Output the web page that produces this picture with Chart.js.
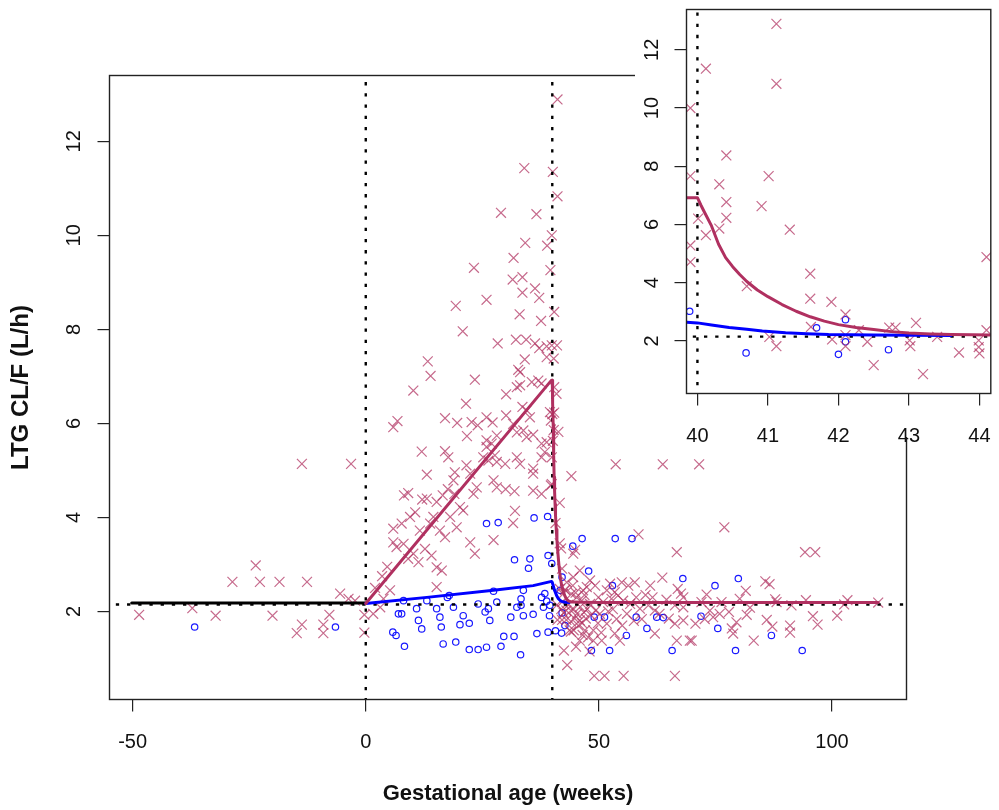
<!DOCTYPE html>
<html>
<head>
<meta charset="utf-8">
<script src="https://cdn.jsdelivr.net/npm/chart.js@4.4.1/dist/chart.umd.min.js"></script>
<style>
html,body{margin:0;padding:0;background:#fff;}
#wrap{position:relative;width:999px;height:810px;overflow:hidden;background:#fff;}
#main{position:absolute;left:0;top:0;}
#inset{position:absolute;left:600px;top:0;}
</style>
</head>
<body>
<div id="wrap">
<canvas id="main" width="999" height="810"></canvas>
<canvas id="inset" width="399" height="470"></canvas>
</div>
<script>
// ---------------- DATA ----------------
// Axis ticks
const mainXTicks = [-50, 0, 50, 100];
const mainYTicks = [2, 4, 6, 8, 10, 12];
const insetXTicks = [40, 41, 42, 43, 44];
const insetYTicks = [2, 4, 6, 8, 10, 12];

// Observed LTG CL/F, pregnant women (x = gestational age, weeks; y = L/h)
const redPrePregnancy = [
  [-48.6,1.93],[-37.2,2.07],[-32.2,1.91],[-28.6,2.63],[-23.6,2.98],[-22.7,2.63],[-20.0,1.91],
  [-18.5,2.63],[-14.8,1.54],[-13.7,1.72],[-13.7,5.14],[-12.6,2.63],[-9.1,1.72],[-9.1,1.54],
  [-7.8,1.93],[-5.5,2.38],[-3.7,2.27],[-3.15,5.14],[-2.3,2.23],[-0.3,1.93],[-0.3,1.55]
];
const redPregnancy = [
  [34.0,11.43],[29.0,10.48],[36.6,10.45],[34.2,9.84],[38.9,9.78],[31.7,9.52],[23.2,9.31],[39.6,9.26],
  [31.5,9.06],[33.6,9.11],[33.6,8.78],[36.3,8.87],[37.2,8.67],[19.3,8.50],[25.9,8.63],[33.0,8.32],
  [37.6,8.18],[20.8,7.96],[28.3,7.70],[32.2,7.78],[34.4,7.78],[36.3,7.70],[37.2,7.60],[38.8,7.64],
  [34.1,7.36],[38.8,7.41],[32.7,7.14],[33.1,7.09],[13.3,7.32],[13.9,7.01],[10.2,6.70],[23.4,6.93],
  [21.5,6.42],[30.1,6.62],[32.4,6.77],[33.1,6.81],[35.6,6.88],[37.0,6.91],[37.7,6.85],[39.5,6.24],
  [39.7,6.06],[33.6,6.35],[34.5,6.28],[35.2,6.13],[5.9,5.92],[6.8,6.05],[12.0,5.40],[17.0,6.11],
  [19.6,6.01],[17.0,5.41],[22.7,6.03],[24.0,5.96],[25.9,6.13],[27.2,6.02],[30.1,6.17],[31.6,5.99],
  [21.7,5.73],[32.4,5.81],[33.8,5.85],[34.5,5.71],[35.9,5.76],[25.9,5.64],[27.0,5.57],[25.9,5.50],
  [28.1,5.74],[37.7,5.57],[38.8,5.60],[17.7,5.28],[13.1,4.91],[19.1,4.96],[18.8,4.79],[21.6,5.11],
  [22.4,4.93],[25.2,5.28],[26.3,5.21],[27.7,5.32],[28.1,5.18],[29.9,5.14],[32.4,5.28],[33.1,5.14],
  [35.9,5.04],[35.9,4.93],[37.7,5.28],[38.4,5.39],
  [8.2,4.47],[9.1,4.52],[12.1,4.38],[13.1,4.40],[15.2,4.33],[16.5,4.47],[17.6,4.60],[19.0,4.50],
  [20.2,4.22],[23.1,4.50],[23.8,4.64],[27.4,4.79],[28.1,4.64],[30.0,4.60],[31.9,4.56],[35.9,4.57],
  [37.7,4.50],[39.7,4.68],
  [5.9,3.76],[7.7,3.87],[9.5,4.01],[10.6,4.11],[11.6,3.72],[13.8,3.87],[14.5,4.01],[15.9,3.72],
  [17.0,3.58],[18.1,4.01],[19.5,3.79],[20.9,4.15],[5.9,3.47],[6.6,3.37],[8.1,3.44],[9.1,3.12],
  [10.2,3.23],[11.3,3.05],[12.7,3.33],[14.1,3.19],[15.2,2.94],[16.3,2.87],[22.4,3.47],[23.4,3.23],
  [27.4,3.52],[32.0,4.14],[31.6,3.88],[3.8,2.27],[5.2,2.45],[1.6,1.95],[3.1,2.09],[15.2,2.52],
  [2.0,2.50],[3.5,2.75],[4.6,2.95]
];
const redEarlyPostpartum = [
  [41.12,12.89],[40.12,11.35],[41.12,10.83],[39.9,10.0],[40.41,8.37],[39.9,7.66],[41.01,7.66],
  [40.31,7.38],[40.91,6.63],[40.41,6.77],[40.41,6.23],[40.01,6.20],[40.31,5.86],[41.31,5.82],
  [40.12,5.63],[39.9,5.28],[39.9,4.71],[40.70,3.88],[41.60,4.31],[41.60,3.45],[41.90,3.34],
  [42.10,2.91],[44.10,4.88],[41.61,2.48],[42.10,2.20],[42.29,2.37],[41.91,2.05],[41.02,2.14],
  [41.12,1.82],[42.10,1.82],[42.41,1.97],[42.50,1.17],[42.72,2.46],[42.81,2.46],[43.01,2.02],
  [43.02,1.82],[43.10,2.62],[43.20,0.86],[43.40,2.14],[43.71,1.60],[43.99,2.02],[43.99,1.79],
  [44.0,1.57],[44.10,2.37]
];
const redLatePostpartum = [
  [53.6,5.13],[63.7,5.13],[71.5,5.13],[76.9,3.79],[58.5,3.64],[66.7,3.26],[94.2,3.26],[96.4,3.26],
  [44.9,3.31],[44.5,3.23],[63.6,2.72],[61.0,2.55],[57.7,2.62],[56.3,2.55],[54.9,2.62],[52.4,2.59],
  [53.4,2.41],[51.7,2.45],[48.1,2.66],[49.2,2.55],[47.4,2.52],[46.6,2.45],[45.9,2.87],[44.5,2.73],
  [44.4,2.55],[45.2,2.30],[46.3,2.23],[48.1,2.16],[49.9,2.30],[50.9,2.20],[52.7,2.27],[54.1,2.34],
  [55.2,2.23],[56.7,2.16],[58.8,2.06],[60.6,2.13],[62.0,2.02],[59.2,1.84],[66.9,2.48],[67.6,2.38],
  [68.1,2.30],[66.3,2.13],[68.1,2.09],[66.3,1.74],[68.1,1.81],[62.0,1.53],[66.7,1.38],[69.9,1.38],
  [73.1,2.36],[72.0,2.20],[76.3,2.20],[73.8,2.02],[72.7,1.84],[75.9,1.95],[74.5,1.88],[78.5,1.64],
  [79.5,1.77],[78.8,1.53],[81.5,2.44],[80.2,2.27],[82.4,2.08],[81.7,1.93],[83.2,1.38],[85.7,2.64],
  [86.6,2.58],[87.8,2.26],[88.1,2.20],[86.0,1.82],[87.2,1.68],[91.3,2.13],[91.0,1.70],[91.0,1.55],
  [94.4,2.24],[95.9,1.90],[96.9,1.72],[101.1,1.91],[102.6,2.15],[103.3,2.24],[109.9,2.19],
  [48.8,1.60],[47.7,1.45],[50.6,1.38],[48.8,1.38],[54.5,1.38],[53.4,1.53],[45.9,1.38],[44.6,1.60],
  [45.9,1.81],[51.7,1.74],[53.8,1.84],[49.0,0.63],[51.2,0.63],[55.3,0.63],[66.3,0.63],[70.7,1.74],
  [77.9,1.99],[69.5,1.38],
  [44.6,2.05],[45.3,1.95],[46.0,2.10],[46.8,1.98],[47.5,2.05],[44.8,1.85],[45.6,1.70],[46.4,1.75],
  [47.2,1.85],[48.3,1.92],[49.3,2.02],[50.2,1.95],[47.0,1.60],[49.8,1.75],[45.0,2.40],[46.9,2.35],
  [45.1,1.25],[46.5,1.50],[48.0,1.15],[50.5,1.55],[52.0,2.00],[53.0,2.05],[56.0,1.95],[57.5,1.80],
  [55.0,1.70],[58.0,2.30],[60.0,2.35],[64.5,2.25],[63.0,1.95],[65.0,1.85],[61.5,2.30]
];

// Observed LTG CL/F, second group (blue circles)
const bluePrePregnancy = [[-36.7,1.67],[-6.5,1.67]];
const bluePregnancy = [
  [25.9,3.87],[28.4,3.89],[36.1,3.99],[39.0,4.02],[31.9,3.10],[35.2,3.12],[34.9,2.92],[39.1,3.19],
  [17.5,2.30],[17.9,2.34],[27.4,2.43],[33.3,2.27],[33.3,2.13],[33.8,2.45],[37.7,2.30],[38.4,2.38],
  [8.1,2.23],[13.1,2.23],[10.9,2.06],[15.2,2.06],[18.8,2.09],[24.1,2.16],[26.3,2.06],[25.6,1.99],
  [28.1,2.20],[32.4,2.09],[7.0,1.95],[7.7,1.95],[11.3,1.81],[15.9,1.88],[16.2,1.67],[20.9,1.91],
  [20.2,1.72],[22.2,1.75],[26.6,1.81],[31.1,1.88],[33.8,1.91],[35.9,1.94],[39.4,1.91],[38.1,2.09],
  [39.5,2.13],[5.8,1.56],[6.5,1.49],[12.0,1.63],[8.3,1.26],[16.6,1.31],[19.3,1.35],[22.2,1.19],
  [24.1,1.19],[25.9,1.24],[29.0,1.26],[29.6,1.47],[31.8,1.47],[36.7,1.53],[39.1,1.56],[33.2,1.08],
  [38.8,2.22]
];
const blueEarlyPostpartum = [
  [39.89,3.02],[40.69,1.59],[41.69,2.45],[42.10,2.73],[42.10,1.97],[42.0,1.54],[42.71,1.70]
];
const blueLatePostpartum = [
  [46.4,3.55],[53.5,3.55],[57.1,3.55],[44.4,3.39],[47.8,2.86],[68.0,2.70],[79.9,2.70],[74.9,2.55],
  [52.9,2.55],[49.0,1.88],[51.2,1.88],[58.0,1.88],[62.4,1.88],[63.8,1.87],[71.9,1.90],[60.3,1.64],
  [75.5,1.64],[55.9,1.49],[87.0,1.49],[48.4,1.17],[52.3,1.17],[65.7,1.17],[79.3,1.17],[93.6,1.17]
];

// Model curves
const pregnantCurveX = [0, 39.85, 40.0, 40.05, 40.1, 40.2, 40.3, 40.4, 40.5, 40.6, 40.7, 40.85, 41.0,
  41.2, 41.4, 41.6, 41.8, 42.0, 42.25, 42.5, 42.75, 43.0, 43.3, 43.6, 43.9, 44.16, 50, 109.9];
const pregnantCurveY = [2.17, 6.92, 6.92, 6.66, 6.42, 5.95, 5.32, 4.86, 4.55, 4.28, 4.04, 3.75, 3.52,
  3.25, 3.02, 2.83, 2.68, 2.56, 2.46, 2.39, 2.32, 2.27, 2.24, 2.22, 2.21, 2.20, 2.19, 2.19];
const controlCurveX = [0, 13.1, 27.4, 35.9, 39.85, 40.0, 40.2, 40.45, 40.7, 40.92, 41.25, 41.55, 41.86, 42.5, 43.6];
const controlCurveY = [2.17, 2.30, 2.45, 2.55, 2.64, 2.62, 2.55, 2.46, 2.40, 2.34, 2.28, 2.25, 2.22, 2.20, 2.19];
const baselineCurveX = [-50.2, 0];
const baselineCurveY = [2.18, 2.18];

// Reference (dotted) lines
const refBaselineY = 2.15;
const refMainVerticalX = [0, 40];
const refInsetVerticalX = [40];

// ---------------- HELPERS ----------------
const FONT = "'Liberation Sans', Arial, Helvetica, sans-serif";
const MAROON = '#B03060';
const toPts = arr => arr.map(p => ({x: p[0], y: p[1]}));
const zip = (xs, ys) => xs.map((x, i) => ({x: x, y: ys[i]}));
const setTicks = vals => scale => { scale.ticks = vals.map(v => ({value: v})); };
const noPad = s => { s.paddingTop = 0; s.paddingBottom = 0; s.paddingLeft = 0; s.paddingRight = 0; };

const redAll = [].concat(redPrePregnancy, redPregnancy, redEarlyPostpartum, redLatePostpartum);
const blueAll = [].concat(bluePrePregnancy, bluePregnancy, blueEarlyPostpartum, blueLatePostpartum);

function lineDS(data, color, width, order, dash) {
  return {
    data: data, showLine: true, borderColor: color, backgroundColor: color,
    borderWidth: width, pointRadius: 0, pointHoverRadius: 0, tension: 0, fill: false,
    borderDash: dash || [], borderCapStyle: dash ? 'butt' : 'round', borderJoinStyle: 'round', order: order
  };
}

function buildDatasets(verticalRefs) {
  const ds = [
    lineDS(zip(pregnantCurveX, pregnantCurveY), MAROON, 3, 0),
    lineDS(zip(controlCurveX, controlCurveY), '#0000FF', 3, 1),
    lineDS(zip(baselineCurveX, baselineCurveY), '#000000', 3, 2),
    lineDS([{x: -1000, y: refBaselineY}, {x: 1000, y: refBaselineY}], '#000000', 2.4, 3, [3.3, 7.9])
  ];
  verticalRefs.forEach(v => {
    ds.push(lineDS([{x: v, y: -1000}, {x: v, y: 1000}], '#000000', 2.4, 3, [3.3, 7.9]));
  });
  ds.push({
    data: toPts(redAll), pointStyle: 'crossRot', pointRadius: 7, pointHoverRadius: 7,
    borderColor: 'rgba(176,48,96,0.72)', backgroundColor: 'rgba(0,0,0,0)', borderWidth: 1.2, order: 4
  });
  ds.push({
    data: toPts(blueAll), pointStyle: 'circle', pointRadius: 3.2, pointHoverRadius: 3.2,
    borderColor: 'rgba(0,0,255,0.9)', backgroundColor: 'rgba(0,0,0,0)', borderWidth: 1.2, order: 5
  });
  return ds;
}

const boxPlugin = {
  id: 'rbox',
  afterDatasetsDraw(chart) {
    const a = chart.chartArea, c = chart.ctx;
    c.save();
    c.strokeStyle = '#222';
    c.lineWidth = 1.4;
    c.strokeRect(a.left, a.top, a.right - a.left, a.bottom - a.top);
    c.restore();
  }
};

const tickFont = {family: FONT, size: 20};
const gridOpts = {display: true, drawOnChartArea: false, drawTicks: true, tickLength: 12, color: '#222', lineWidth: 1.2};

// ---------------- MAIN CHART ----------------
new Chart(document.getElementById('main'), {
  type: 'scatter',
  data: {datasets: buildDatasets(refMainVerticalX)},
  options: {
    responsive: false, animation: false, devicePixelRatio: 1, events: [],
    layout: {padding: {left: 0, right: 92.5, top: 75.5, bottom: 0}},
    plugins: {legend: {display: false}, tooltip: {enabled: false}},
    scales: {
      x: {
        type: 'linear', min: -54.96, max: 115.97,
        afterBuildTicks: setTicks(mainXTicks),
        afterFit: s => { s.height = 110.5; noPad(s); },
        grid: gridOpts, border: {display: false},
        ticks: {font: tickFont, color: '#111', padding: 18.5, maxRotation: 0, autoSkip: false},
        title: {display: true, text: 'Gestational age (weeks)', color: '#111',
                font: {family: FONT, size: 22, weight: 'bold'}, padding: {top: 0, bottom: 3}}
      },
      y: {
        type: 'linear', min: 0.128, max: 13.40,
        afterBuildTicks: setTicks(mainYTicks),
        afterFit: s => { s.width = 109.5; noPad(s); },
        grid: gridOpts, border: {display: false},
        ticks: {font: tickFont, color: '#111', padding: 11.9, minRotation: 90, maxRotation: 90,
                crossAlign: 'center', autoSkip: false},
        title: {display: true, text: 'LTG CL/F (L/h)', color: '#111',
                font: {family: FONT, size: 24, weight: 'bold'}, padding: {top: 6.6, bottom: 0}}
      }
    }
  },
  plugins: [{
    id: 'bgWhite',
    beforeDraw(chart) {
      const c = chart.ctx; c.save(); c.fillStyle = '#fff';
      c.fillRect(0, 0, chart.width, chart.height); c.restore();
    }
  }, boxPlugin]
});

// ---------------- INSET CHART ----------------
new Chart(document.getElementById('inset'), {
  type: 'scatter',
  data: {datasets: buildDatasets(refInsetVerticalX)},
  options: {
    responsive: false, animation: false, devicePixelRatio: 1, events: [],
    layout: {padding: {left: 0, right: 6.5, top: 9.5, bottom: 0}},
    plugins: {legend: {display: false}, tooltip: {enabled: false}},
    scales: {
      x: {
        type: 'linear', min: 39.845, max: 44.161,
        afterBuildTicks: setTicks(insetXTicks),
        afterFit: s => { s.height = 76.5; noPad(s); },
        grid: gridOpts, border: {display: false},
        ticks: {font: tickFont, color: '#111', padding: 19.2, maxRotation: 0, autoSkip: false}
      },
      y: {
        type: 'linear', min: 0.195, max: 13.383,
        afterBuildTicks: setTicks(insetYTicks),
        afterFit: s => { s.width = 86.5; noPad(s); },
        grid: gridOpts, border: {display: false},
        ticks: {font: tickFont, color: '#111', padding: 10.9, minRotation: 90, maxRotation: 90,
                crossAlign: 'center', autoSkip: false}
      }
    }
  },
  plugins: [{
    id: 'insetBg',
    beforeDraw(chart) {
      const c = chart.ctx; c.save(); c.fillStyle = '#fff';
      c.fillRect(35, 0, chart.width - 35, 437); c.restore();
    }
  }, boxPlugin]
});
</script>
</body>
</html>
